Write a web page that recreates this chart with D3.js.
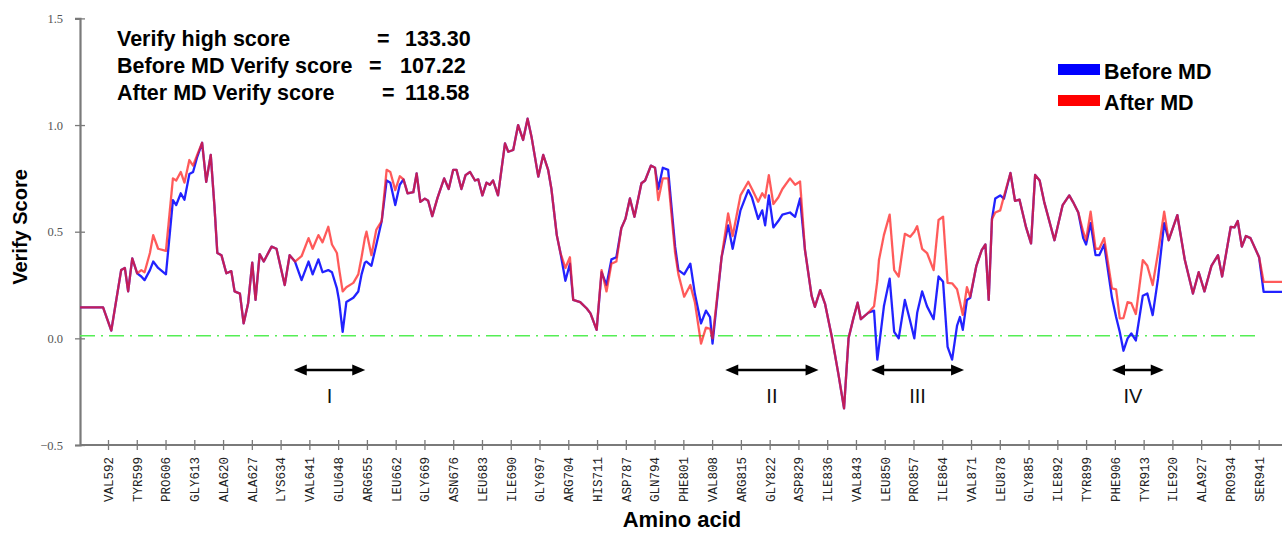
<!DOCTYPE html>
<html>
<head>
<meta charset="utf-8">
<script src="https://cdn.jsdelivr.net/npm/d3@7"></script>
<style>
  html, body { margin: 0; padding: 0; background: #fff; }
  svg { display: block; }
</style>
</head>
<body>
<svg id="chart" width="1282" height="533"></svg>
<script>
// Residue tick labels (one every 7 positions along the sequence index)
const tickLabels = ["VAL592","TYR599","PRO606","GLY613","ALA620","ALA627","LYS634","VAL641","GLU648","ARG655",
  "LEU662","GLY669","ASN676","LEU683","ILE690","GLY697","ARG704","HIS711","ASP787","GLN794",
  "PHE801","VAL808","ARG815","GLY822","ASP829","ILE836","VAL843","LEU850","PRO857","ILE864",
  "VAL871","LEU878","GLY885","ILE892","TYR899","PHE906","TYR913","ILE920","ALA927","PRO934","SER941"];
const yTicks = [-0.5, 0.0, 0.5, 1.0, 1.5];

// Sequence index (0 = VAL592) of each profile vertex
const residuePos = [-6.8,-1.2,0.8,3.2,4.1,4.9,5.9,7.1,8.1,8.9,10.2,11.0,12.2,14.1,15.8,16.6,17.7,18.6,19.8,20.7,
  21.7,22.9,23.9,25.0,25.9,26.6,27.6,28.8,30.0,30.8,32.1,33.0,34.1,35.1,35.9,36.9,37.9,39.8,41.0,43.0,
  44.2,45.5,47.1,48.8,49.8,51.2,52.2,53.6,54.5,55.7,56.2,57.1,58.0,59.7,60.9,61.7,62.5,62.9,64.1,65.3,
  66.6,67.8,68.7,69.9,71.0,71.9,72.9,74.3,75.1,76.0,77.1,77.9,78.9,80.2,81.8,82.9,84.0,84.8,86.0,87.0,
  88.1,89.3,90.1,91.1,92.1,92.9,93.7,94.9,96.6,97.4,98.6,99.8,101.0,102.1,103.1,104.7,105.9,107.1,107.9,109.2,
  110.1,111.3,112.4,113.2,114.9,116.5,117.4,118.9,120.1,121.3,122.5,123.7,124.9,125.9,127.0,128.1,129.8,130.7,132.1,133.1,
  133.9,135.0,136.3,138.0,138.8,140.2,141.7,142.8,144.3,145.5,146.5,147.1,149.3,150.9,152.0,153.9,155.8,156.7,158.2,159.2,
  159.9,160.8,161.9,163.1,164.1,165.95,167.2,168.4,169.6,171.2,172.0,173.3,174.5,176.1,177.7,179.1,180.2,181.4,182.4,183.2,
  185.0,186.4,187.2,187.6,188.8,190.2,191.3,192.4,193.9,195.2,196.2,196.9,198.1,199.3,200.9,202.1,203.2,204.3,205.4,206.6,
  207.3,208.0,209.0,209.8,211.3,212.6,213.5,214.3,215.1,215.9,217.1,218.0,219.6,220.7,221.8,223.4,224.6,225.6,226.7,227.8,
  230.3,232.3,233.9,234.8,236.1,237.3,238.0,239.1,240.3,241.2,242.4,244.3,245.3,246.2,247.1,248.1,249.0,250.1,251.8,252.9,
  254.2,255.5,257.0,258.1,260.2,262.0,264.0,265.4,266.8,268.5,270.1,271.1,273.2,274.1,274.9,275.9,276.9,278.0,280.1,281.2,
  286.0];

// Verify3D averaged score after MD
const afterMD = [0.145,0.145,0.036,0.32,0.33,0.22,0.375,0.305,0.32,0.31,0.40,0.484,0.42,0.41,0.75,0.74,0.78,0.73,0.836,0.81,
  0.86,0.917,0.734,0.86,0.62,0.40,0.39,0.305,0.315,0.22,0.21,0.07,0.165,0.355,0.18,0.395,0.36,0.43,0.42,0.25,
  0.39,0.36,0.385,0.47,0.42,0.484,0.45,0.523,0.44,0.40,0.33,0.22,0.24,0.26,0.30,0.38,0.47,0.50,0.39,0.51,
  0.55,0.79,0.78,0.695,0.76,0.745,0.68,0.685,0.773,0.64,0.655,0.645,0.573,0.66,0.75,0.70,0.79,0.79,0.70,0.765,
  0.78,0.74,0.745,0.67,0.73,0.72,0.74,0.67,0.914,0.875,0.883,1.00,0.93,1.03,0.94,0.758,0.86,0.79,0.70,0.484,
  0.40,0.33,0.38,0.18,0.17,0.14,0.117,0.04,0.32,0.22,0.35,0.36,0.516,0.56,0.656,0.57,0.727,0.74,0.81,0.80,
  0.648,0.75,0.75,0.40,0.30,0.195,0.25,0.17,-0.025,0.05,0.045,0.0,0.38,0.586,0.48,0.67,0.734,0.70,0.64,0.68,
  0.66,0.765,0.63,0.66,0.70,0.75,0.72,0.735,0.414,0.20,0.148,0.226,0.16,0.01,-0.164,-0.328,0.0,0.096,0.167,0.09,
  0.12,0.15,0.27,0.367,0.484,0.58,0.32,0.29,0.49,0.476,0.50,0.526,0.42,0.40,0.32,0.555,0.57,0.26,0.258,0.23,
  0.17,0.11,0.24,0.195,0.34,0.414,0.44,0.18,0.56,0.59,0.60,0.665,0.775,0.645,0.65,0.52,0.445,0.766,0.74,0.64,
  0.46,0.625,0.67,0.64,0.59,0.50,0.46,0.594,0.42,0.42,0.47,0.234,0.23,0.094,0.095,0.17,0.165,0.114,0.367,0.34,
  0.25,0.40,0.594,0.46,0.578,0.37,0.21,0.31,0.22,0.34,0.39,0.29,0.523,0.52,0.55,0.43,0.48,0.47,0.38,0.265,
  0.265];

// Verify3D averaged score before MD
const beforeMD = [0.145,0.145,0.036,0.32,0.33,0.22,0.375,0.305,0.29,0.273,0.32,0.36,0.33,0.30,0.648,0.625,0.68,0.65,0.77,0.78,
  0.85,0.917,0.734,0.86,0.62,0.40,0.39,0.305,0.315,0.22,0.21,0.07,0.165,0.355,0.18,0.395,0.36,0.43,0.42,0.25,
  0.39,0.36,0.273,0.36,0.30,0.37,0.31,0.32,0.31,0.234,0.18,0.03,0.17,0.19,0.22,0.30,0.355,0.36,0.34,0.44,
  0.55,0.74,0.73,0.625,0.72,0.745,0.68,0.685,0.773,0.64,0.655,0.645,0.573,0.66,0.75,0.70,0.79,0.79,0.70,0.765,
  0.78,0.74,0.745,0.67,0.73,0.72,0.74,0.67,0.914,0.875,0.883,1.00,0.93,1.03,0.94,0.758,0.86,0.79,0.70,0.484,
  0.40,0.27,0.35,0.18,0.17,0.14,0.117,0.04,0.31,0.25,0.37,0.38,0.516,0.56,0.656,0.57,0.727,0.74,0.81,0.80,
  0.70,0.80,0.79,0.43,0.32,0.30,0.35,0.21,0.07,0.13,0.10,-0.025,0.38,0.53,0.42,0.60,0.695,0.66,0.56,0.60,
  0.53,0.67,0.52,0.55,0.58,0.59,0.57,0.656,0.414,0.20,0.148,0.226,0.16,0.01,-0.164,-0.328,0.0,0.096,0.167,0.09,
  0.12,0.13,-0.10,-0.04,0.15,0.28,0.03,0.0,0.18,0.08,0.0,0.12,0.22,0.15,0.09,0.29,0.265,-0.04,-0.10,0.06,
  0.10,0.04,0.18,0.19,0.34,0.414,0.44,0.18,0.56,0.656,0.67,0.655,0.775,0.645,0.65,0.52,0.445,0.766,0.74,0.64,
  0.46,0.625,0.67,0.64,0.59,0.47,0.44,0.54,0.39,0.39,0.44,0.19,0.10,0.03,-0.058,0.0,0.023,-0.01,0.20,0.21,
  0.109,0.28,0.54,0.46,0.578,0.37,0.21,0.31,0.22,0.34,0.39,0.29,0.523,0.52,0.55,0.43,0.48,0.47,0.38,0.218,
  0.218];

// Reference level drawn as a dash-dot line
const thresholdLevel = 0.012;

// Marked regions: start / end sequence index and roman label
const regionNames = ["I", "II", "III", "IV"];
const regionStart = [45.2, 150.2, 185.7, 244.3];
const regionEnd   = [62.6, 172.9, 208.3, 256.9];

// Score summary lines
const scoreNames  = ["Verify high score", "Before MD Verify score", "After MD Verify score"];
const scoreValues = ["133.30", "107.22", "118.58"];

const seriesNames = ["Before MD", "After MD"];
const seriesColors = ["#2323ff", "#ff1e1e"];

const svg = d3.select("#chart");
const x = d3.scaleLinear().domain([0, 280]).range([108, 1258.7]);
const y = d3.scaleLinear().domain([-0.5, 1.5]).range([445, 18.4]);
const xLeft = 80, xRight = 1282;

const axisColor = "#7a7a7a";

// soft edge for the plotted profiles
const defs = svg.append("defs");
defs.append("filter").attr("id", "soft")
  .append("feGaussianBlur").attr("stdDeviation", 0.45);
defs.append("clipPath").attr("id", "plotClip")
  .append("rect").attr("x", xLeft).attr("y", 0).attr("width", xRight - xLeft).attr("height", 533);

// Y axis
const yAxis = svg.append("g").attr("transform", `translate(${xLeft},0)`)
  .call(d3.axisLeft(y).tickValues(yTicks).tickFormat(d3.format(".1f")).tickSizeOuter(0).tickSize(5).tickPadding(12));
yAxis.select(".domain").attr("stroke", axisColor).attr("stroke-width", 2.2);
yAxis.selectAll(".tick line").attr("x1", 5).attr("x2", -5).attr("stroke", axisColor).attr("stroke-width", 1.3);
yAxis.selectAll(".tick text")
  .attr("font-family", "'Liberation Serif', 'Times New Roman', serif")
  .attr("font-size", 12.5).attr("fill", "#555");

// X axis
const xAxis = svg.append("g").attr("transform", `translate(0,${y(-0.5)})`)
  .call(d3.axisBottom(x).tickValues(d3.range(tickLabels.length).map(i => i * 7))
    .tickFormat((d, i) => tickLabels[i]).tickSizeOuter(0).tickSize(5));
xAxis.select(".domain").remove();
xAxis.append("line").attr("x1", xLeft).attr("x2", xRight).attr("y1", 0).attr("y2", 0)
  .attr("stroke", axisColor).attr("stroke-width", 2.2);
xAxis.selectAll(".tick line").attr("y1", -5).attr("y2", 5).attr("stroke", axisColor).attr("stroke-width", 1.3);
xAxis.selectAll(".tick text")
  .attr("font-family", "'Liberation Mono', 'Courier New', monospace")
  .attr("font-size", 12.5).attr("fill", "#222")
  .attr("text-anchor", "end")
  .attr("transform", "translate(0,12) rotate(-90)")
  .attr("x", 0).attr("y", 0).attr("dy", "0.35em");

// Dash-dot reference level
svg.append("line")
  .attr("x1", xLeft).attr("x2", 1256)
  .attr("y1", y(thresholdLevel)).attr("y2", y(thresholdLevel))
  .attr("stroke", "#55ee55").attr("stroke-width", 1.4)
  .attr("stroke-dasharray", "15,6,2,6");

// Profiles
const line = d3.line().x(d => x(d[0])).y(d => y(d[1]));
const plot = svg.append("g").attr("clip-path", "url(#plotClip)");
const beforePts = residuePos.map((p, i) => [p, beforeMD[i]]);
const afterPts = residuePos.map((p, i) => [p, afterMD[i]]);
plot.append("path").datum(beforePts)
  .attr("d", line).attr("fill", "none")
  .attr("stroke", seriesColors[0]).attr("stroke-width", 2.3)
  .attr("stroke-linejoin", "round").attr("filter", "url(#soft)");
plot.append("path").datum(afterPts)
  .attr("d", line).attr("fill", "none")
  .attr("stroke", seriesColors[1]).attr("stroke-width", 2.3).attr("stroke-opacity", 0.72)
  .attr("stroke-linejoin", "round").attr("filter", "url(#soft)");

// Region markers: double-headed arrows with roman numerals
const arrowY = 370;
regionNames.forEach((name, i) => {
  const x0 = x(regionStart[i]), x1 = x(regionEnd[i]);
  const g = svg.append("g");
  g.append("line").attr("x1", x0 + 8).attr("x2", x1 - 8).attr("y1", arrowY).attr("y2", arrowY)
    .attr("stroke", "#000").attr("stroke-width", 2.6);
  g.append("path").attr("d", `M${x0},${arrowY} L${x0 + 13},${arrowY - 5.5} L${x0 + 13},${arrowY + 5.5} Z`).attr("fill", "#000");
  g.append("path").attr("d", `M${x1},${arrowY} L${x1 - 13},${arrowY - 5.5} L${x1 - 13},${arrowY + 5.5} Z`).attr("fill", "#000");
  g.append("text").attr("x", (x0 + x1) / 2 - (i === 3 ? 5 : 0)).attr("y", 403)
    .attr("text-anchor", "middle")
    .attr("font-family", "'Liberation Sans', Arial, sans-serif")
    .attr("font-size", 20).attr("fill", "#111").text(name);
});

// Score summary
const boldFont = "'Liberation Sans', Arial, sans-serif";
const eqX = [377, 369, 382];
const numX = [405, 400, 405];
scoreNames.forEach((name, i) => {
  const by = 46 + i * 27;
  svg.append("text").attr("x", 117).attr("y", by)
    .attr("font-family", boldFont).attr("font-weight", "bold").attr("font-size", 21.5).text(name);
  svg.append("text").attr("x", eqX[i]).attr("y", by)
    .attr("font-family", boldFont).attr("font-weight", "bold").attr("font-size", 21.5).text("=");
  svg.append("text").attr("x", numX[i]).attr("y", by)
    .attr("font-family", boldFont).attr("font-weight", "bold").attr("font-size", 21.5).text(scoreValues[i]);
});

// Legend
seriesNames.forEach((name, i) => {
  const ly = 64 + i * 31;
  svg.append("rect").attr("x", 1058).attr("y", ly).attr("width", 42).attr("height", 11).attr("fill", i === 0 ? "#0000ff" : "#ff0000");
  svg.append("text").attr("x", 1104).attr("y", ly + 14.5)
    .attr("font-family", boldFont).attr("font-weight", "bold").attr("font-size", 21.5).text(name);
});

// Axis titles
svg.append("text").attr("x", 682).attr("y", 527).attr("text-anchor", "middle")
  .attr("font-family", boldFont).attr("font-weight", "bold").attr("font-size", 22).text("Amino acid");
svg.append("text").attr("transform", "translate(27,227) rotate(-90)").attr("text-anchor", "middle")
  .attr("font-family", boldFont).attr("font-weight", "bold").attr("font-size", 20).text("Verify Score");
</script>
</body>
</html>
